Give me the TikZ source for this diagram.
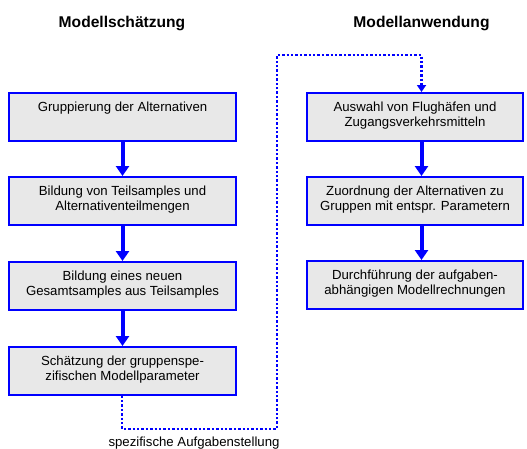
\documentclass[tikz,border=0pt]{standalone}
\usepackage{fontspec}
\setmainfont{Liberation Sans}
\usetikzlibrary{arrows.meta}
\definecolor{boxfill}{HTML}{E8E8E8}
\newcommand{\boxtext}[3]{\parbox[c][42pt][t]{#1}{\centering\fontsize{13.2}{14.5}\selectfont\rule{0pt}{16pt}#2\\#3}}
\begin{document}
\begin{tikzpicture}[x=1pt,y=-1pt,
  stepbox/.style={draw=blue,line width=1.6pt,fill=boxfill,rectangle,
    inner xsep=0pt,inner ysep=3pt,anchor=north},
  flow/.style={draw=blue,line width=4pt,-{Triangle[length=10pt,width=13pt]}},
  dotflow/.style={draw=blue,line width=2.8pt,dash pattern=on 2.4pt off 2pt,-{Triangle[length=7pt,width=9pt]}},
  title/.style={font=\fontsize{15.6}{18}\bfseries\selectfont,anchor=base}]
\useasboundingbox (0,0) rectangle (527,448);
\node[title] (t1) at (122,27) {Modellschätzung};
\node[title] (t2) at (421.5,27) {Modellanwendung};
\node[stepbox] (l1) at (122.5,92) {\boxtext{227pt}{Gruppierung der Alternativen}{}};
\node[stepbox] (l2) at (122.5,176) {\boxtext{227pt}{Bildung von Teilsamples und}{Alternativenteilmengen}};
\node[stepbox] (l3) at (122.5,261) {\boxtext{227pt}{Bildung eines neuen}{Gesamtsamples aus Teilsamples}};
\node[stepbox] (l4) at (122.5,346) {\boxtext{227pt}{Schätzung der gruppenspe-}{zifischen Modellparameter}};
\node[stepbox] (r1) at (415,92) {\boxtext{216pt}{Auswahl von Flughäfen und}{Zugangsverkehrsmitteln}};
\node[stepbox] (r2) at (415,176) {\boxtext{216pt}{Zuordnung der Alternativen zu}{Gruppen mit entspr. Parametern}};
\node[stepbox] (r3) at (415,260) {\boxtext{216pt}{Durchführung der aufgaben-}{abhängigen Modellrechnungen}};
\node[font=\fontsize{13.2}{15}\selectfont,anchor=base] (lab) at (194,446) {spezifische Aufgabenstellung};
\draw[flow] (l1.south) -- (l2.north);
\draw[flow] (l2.south) -- (l3.north);
\draw[flow] (l3.south) -- (l4.north);
\draw[flow] ([xshift=6.5pt]r1.south) -- ([xshift=6.5pt]r2.north);
\draw[flow] ([xshift=6.5pt]r2.south) -- ([xshift=6.5pt]r3.north);
\coordinate (c1) at (122,429);
\coordinate (c2) at (277,429);
\coordinate (c3) at (277,55);
\coordinate (c4) at (421.5,55);
\draw[dotflow] ([xshift=-0.5pt]l4.south) -- (c1) -- (c2) -- (c3) -- (c4) -- ([xshift=6.5pt]r1.north);
\end{tikzpicture}
\end{document}
